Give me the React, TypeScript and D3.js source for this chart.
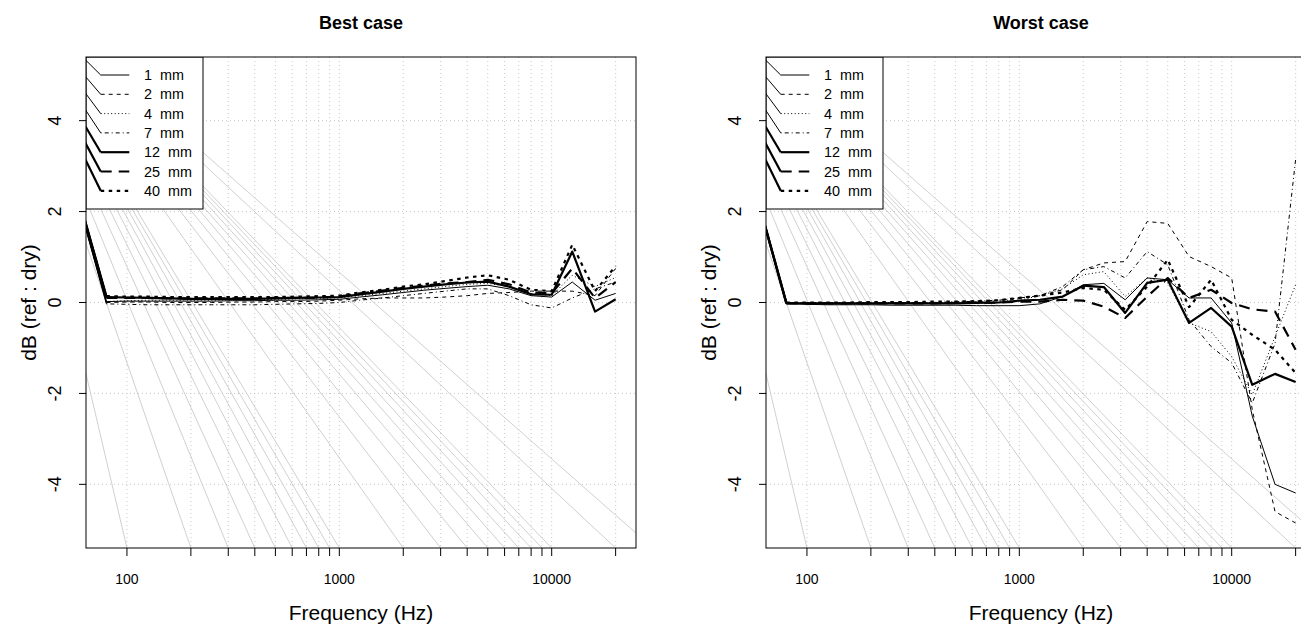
import React from 'react';
import * as d3 from 'd3';

// 1/3-octave band centre frequencies (Hz)
const freqs = [80, 100, 125, 160, 200, 250, 315, 400, 500, 630, 800, 1000, 1250, 1600, 2000, 2500, 3150, 4000, 5000, 6300, 8000, 10000, 12500, 16000, 20000];

const legendLabels = ['1  mm', '2  mm', '4  mm', '7  mm', '12  mm', '25  mm', '40  mm'];

// Best case (dB ref : dry)
const best1mm = [0.02, 0.03, 0.03, 0.03, 0.03, 0.03, 0.04, 0.04, 0.05, 0.05, 0.06, 0.07, 0.12, 0.17, 0.22, 0.27, 0.31, 0.35, 0.38, 0.3, 0.15, 0.12, 0.45, 0.05, 0.2];
const best2mm = [0.0, 0.01, 0.01, 0.0, 0.0, 0.0, 0.01, 0.01, 0.02, 0.02, 0.03, 0.05, 0.08, 0.1, 0.1, 0.1, 0.12, 0.15, 0.2, 0.22, 0.25, 0.25, 0.25, 0.15, 0.75];
const best4mm = [0.02, 0.04, 0.05, 0.05, 0.05, 0.05, 0.06, 0.06, 0.07, 0.08, 0.09, 0.1, 0.15, 0.2, 0.25, 0.3, 0.35, 0.4, 0.42, 0.35, 0.2, 0.15, 0.6, 0.35, 0.55];
const best7mm = [-0.03, -0.04, -0.05, -0.05, -0.05, -0.05, -0.05, -0.05, -0.04, -0.03, -0.02, 0.0, 0.05, 0.1, 0.15, 0.2, 0.25, 0.3, 0.3, 0.15, -0.05, -0.12, 0.1, 0.3, 0.45];
const best12mm = [0.12, 0.11, 0.1, 0.09, 0.08, 0.08, 0.08, 0.08, 0.09, 0.1, 0.11, 0.12, 0.18, 0.24, 0.3, 0.35, 0.4, 0.44, 0.46, 0.35, 0.18, 0.17, 1.12, -0.2, 0.07];
const best25mm = [0.1, 0.1, 0.1, 0.09, 0.09, 0.09, 0.09, 0.09, 0.1, 0.1, 0.11, 0.13, 0.2, 0.26, 0.32, 0.37, 0.42, 0.45, 0.5, 0.4, 0.22, 0.2, 0.75, 0.1, 0.45];
const best40mm = [0.14, 0.13, 0.13, 0.12, 0.12, 0.12, 0.12, 0.12, 0.12, 0.13, 0.14, 0.15, 0.22, 0.28, 0.35, 0.4, 0.47, 0.55, 0.6, 0.5, 0.28, 0.25, 1.27, 0.25, 0.8];

// Worst case (dB ref : dry)
const worst1mm = [-0.02, -0.04, -0.05, -0.05, -0.05, -0.06, -0.06, -0.06, -0.06, -0.07, -0.07, -0.07, -0.03, 0.13, 0.39, 0.42, 0.06, 0.54, 0.5, 0.1, 0.1, -0.45, -2.5, -4.0, -4.19];
const worst2mm = [0.0, -0.01, -0.01, 0.0, 0.0, 0.0, 0.0, 0.0, 0.0, 0.02, 0.05, 0.1, 0.15, 0.28, 0.72, 0.87, 0.9, 1.78, 1.74, 1.01, 0.79, 0.54, -2.36, -4.6, -4.85];
const worst4mm = [0.0, 0.0, 0.0, 0.0, 0.0, 0.0, 0.0, 0.0, 0.01, 0.02, 0.03, 0.05, 0.15, 0.3, 0.61, 0.68, 0.13, 0.54, 0.43, -0.45, -0.64, -1.19, -2.03, -0.75, 0.39];
const worst7mm = [0.0, 0.0, -0.01, -0.01, -0.01, 0.0, 0.0, 0.0, 0.01, 0.03, 0.05, 0.1, 0.15, 0.35, 0.72, 0.79, 0.54, 1.12, 0.83, -0.38, -0.97, -1.33, -2.21, -0.9, 3.15];
const worst12mm = [-0.02, -0.02, -0.02, -0.02, -0.02, -0.02, -0.02, -0.02, -0.02, -0.01, 0.0, 0.04, 0.06, 0.13, 0.37, 0.34, -0.23, 0.43, 0.5, -0.45, -0.12, -0.53, -1.81, -1.57, -1.75];
const worst25mm = [-0.02, -0.02, -0.02, -0.02, -0.02, -0.02, -0.02, -0.02, -0.01, -0.01, 0.0, 0.02, 0.02, 0.06, 0.04, -0.09, -0.34, 0.13, 0.54, 0.1, 0.28, -0.01, -0.15, -0.2, -1.04];
const worst40mm = [0.0, 0.0, 0.0, 0.0, 0.01, 0.01, 0.01, 0.02, 0.02, 0.03, 0.05, 0.1, 0.15, 0.22, 0.32, 0.28, -0.16, 0.35, 0.94, -0.1, 0.5, -0.38, -0.71, -1.04, -1.55];

const gridFreqs = [100, 200, 300, 400, 500, 600, 700, 800, 900, 1000, 2000, 3000, 4000, 5000, 6000, 7000, 8000, 9000, 10000, 20000];
const grayFreqs = [100, 200, 300, 400, 500, 600, 700, 800, 900, 1000, 2000, 3000, 4000, 5000, 6000, 7000, 8000, 9000, 10000, 20000, 30000];
const xLabelTicks = [100, 1000, 10000];
const yTicks = [-4, -2, 0, 2, 4];

// common start points of the stray (rendering-artifact) strokes, in data units
const strayGridFreq = 22.65;
const strayGridDb = 7.42;
const straySeriesFreq = 31.5;
const straySeriesDb = 6.84;

const xLim = [80, 20000];
const yLim = [-5, 5];

const FONT = '"Liberation Sans", Arial, Helvetica, sans-serif';

const lineStyles = [
  { dash: 'none', width: 1 },
  { dash: '4,4', width: 1 },
  { dash: '1,2.5', width: 1 },
  { dash: '1,3,4,3', width: 1 },
  { dash: 'none', width: 2.2 },
  { dash: '11,7', width: 2.2 },
  { dash: '3.5,4.5', width: 2.2 },
];

const plotW = 550;
const plotH = 491;
const marginLeft = 86;
const marginTop = 57;
const panelWidth = 680;

function Panel({ title, series, offset, id }: { title: string; series: number[][]; offset: number; id: string }) {
  const lx0 = Math.log10(xLim[0]);
  const lx1 = Math.log10(xLim[1]);
  const ex = (lx1 - lx0) * 0.04;
  const x = d3.scaleLog().domain([Math.pow(10, lx0 - ex), Math.pow(10, lx1 + ex)]).range([0, plotW]);
  const ey = (yLim[1] - yLim[0]) * 0.04;
  const y = d3.scaleLinear().domain([yLim[0] - ey, yLim[1] + ey]).range([plotH, 0]);

  const gx = x(strayGridFreq);
  const gy = y(strayGridDb);
  const sxp = x(straySeriesFreq);
  const syp = y(straySeriesDb);
  const line = d3.line<[number, number]>().x((d) => x(d[0])).y((d) => y(d[1]));

  const legW = 117;
  const legH = 152;
  const rowY = (i: number) => 18 + i * 19.3;
  const sx0 = 14.7;
  const sx1 = 43.3;

  return (
    <g transform={`translate(${offset + marginLeft},${marginTop})`}>
      <defs>
        <clipPath id={id}>
          <rect x={0} y={0} width={plotW} height={plotH} />
        </clipPath>
      </defs>
      <g clipPath={`url(#${id})`}>
        {grayFreqs.map((f) => (
          <line key={'g' + f} x1={gx} y1={gy} x2={x(f)} y2={plotH} stroke="#d0d0d0" strokeWidth={1} />
        ))}
        {gridFreqs.map((f) => (
          <line key={'v' + f} x1={x(f)} x2={x(f)} y1={0} y2={plotH} stroke="#c8c8c8" strokeWidth={1} strokeDasharray="1,3" />
        ))}
        {yTicks.map((t) => (
          <line key={'h' + t} x1={0} x2={plotW} y1={y(t)} y2={y(t)} stroke="#c8c8c8" strokeWidth={1} strokeDasharray="1,3" />
        ))}
        {series.map((vals, i) => {
          const pts: [number, number][] = freqs.map((f, k) => [f, vals[k]]);
          const st = lineStyles[i];
          return (
            <g key={'s' + i}>
              <line x1={sxp} y1={syp} x2={x(freqs[0])} y2={y(vals[0])} stroke="#000" strokeWidth={st.width} />
              <path d={line(pts) || ''} fill="none" stroke="#000" strokeWidth={st.width} strokeDasharray={st.dash} strokeLinejoin="round" />
            </g>
          );
        })}
        <rect x={0} y={0} width={legW} height={legH} fill="#fff" stroke="#000" strokeWidth={1} />
        {legendLabels.map((lab, i) => {
          const st = lineStyles[i];
          return (
            <g key={'l' + i}>
              <line x1={gx} y1={gy} x2={sx0} y2={rowY(i)} stroke="#000" strokeWidth={st.width} />
              <line x1={sx0} x2={sx1} y1={rowY(i)} y2={rowY(i)} stroke="#000" strokeWidth={st.width} strokeDasharray={st.dash} />
            </g>
          );
        })}
      </g>
      {legendLabels.map((lab, i) => (
        <text key={'t' + i} x={58} y={rowY(i)} dy="0.35em" fontSize={14.4} fontFamily={FONT} style={{ whiteSpace: 'pre' }}>
          {lab}
        </text>
      ))}
      <rect x={0} y={0} width={plotW} height={plotH} fill="none" stroke="#000" strokeWidth={1} />
      {gridFreqs.map((f) => (
        <line key={'xt' + f} x1={x(f)} x2={x(f)} y1={plotH} y2={plotH + 8} stroke="#000" strokeWidth={1} />
      ))}
      {xLabelTicks.map((f) => (
        <text key={'xl' + f} x={x(f)} y={plotH + 36} textAnchor="middle" fontSize={14} fontFamily={FONT}>
          {String(f)}
        </text>
      ))}
      {yTicks.map((t) => (
        <line key={'yt' + t} x1={0} x2={-7} y1={y(t)} y2={y(t)} stroke="#000" strokeWidth={1} />
      ))}
      {yTicks.map((t) => (
        <text key={'yl' + t} transform={`translate(${-25},${y(t)}) rotate(-90)`} textAnchor="middle" fontSize={18} fontFamily={FONT}>
          {String(t)}
        </text>
      ))}
      <text x={plotW / 2} y={plotH + 72} textAnchor="middle" fontSize={21} fontFamily={FONT}>
        Frequency (Hz)
      </text>
      <text transform={`translate(${-50},${plotH / 2}) rotate(-90)`} textAnchor="middle" fontSize={21} fontFamily={FONT}>
        dB (ref : dry)
      </text>
      <text x={plotW / 2} y={-28} textAnchor="middle" fontSize={18} fontWeight="bold" fontFamily={FONT}>
        {title}
      </text>
    </g>
  );
}

export default function App() {
  const bestSeries = [best1mm, best2mm, best4mm, best7mm, best12mm, best25mm, best40mm];
  const worstSeries = [worst1mm, worst2mm, worst4mm, worst7mm, worst12mm, worst25mm, worst40mm];
  return (
    <svg width={1301} height={630} style={{ position: 'absolute', left: 0, top: 0, background: '#fff' }}>
      <rect x={0} y={0} width={1301} height={630} fill="#fff" />
      <Panel title="Best case" series={bestSeries} offset={0} id="clipBest" />
      <Panel title="Worst case" series={worstSeries} offset={panelWidth} id="clipWorst" />
    </svg>
  );
}
